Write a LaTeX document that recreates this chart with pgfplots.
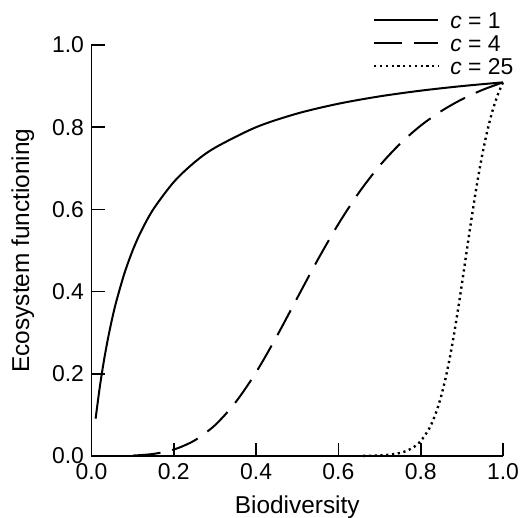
\documentclass[border=0pt]{standalone}
\usepackage{fontspec}
\setmainfont{Liberation Sans}
\usepackage{pgfplots}
\pgfplotsset{compat=1.18}

\begin{document}
\begin{tikzpicture}
\begin{axis}[
    scale only axis,
    width=411.5bp, height=411bp,
    xmin=0, xmax=1, ymin=0, ymax=1,
    enlargelimits=false,
    clip=false,
    axis lines=left,
    axis line style={-, line width=1.6bp},
    tick align=inside,
    major tick length=13bp,
    tick style={line width=1.6bp, black},
    xtick={0,0.2,0.4,0.6,0.8,1.0},
    ytick={0,0.2,0.4,0.6,0.8,1.0},
    /pgf/number format/assume math mode=true,
    /pgf/number format/fixed,
    /pgf/number format/fixed zerofill,
    /pgf/number format/precision=1,
    ticklabel style={font=\fontsize{23}{27}\selectfont},
    xticklabel shift=4bp,
    yticklabel shift=4bp,
    label style={font=\fontsize{24.5}{28}\selectfont},
    xlabel shift=9bp,
    ylabel shift=11bp,
    xlabel={Biodiversity},
    ylabel={Ecosystem functioning},
    legend style={
        at={(axis cs:0.684,1)}, anchor=north west, yshift=36.5bp,
        draw=none, fill=none, inner sep=0pt, outer sep=0pt,
        column sep=11bp, row sep=0pt,
        font=\fontsize{23}{27}\selectfont,
        nodes={inner xsep=0pt, inner ysep=3bp, text height=17bp, text depth=0bp},
    },
    legend cell align=left,
    legend image code/.code={\draw[#1] (0bp,0bp) -- (64bp,0bp);},
]
% c = 1
\addplot[black, line width=2bp, smooth] coordinates {
    (0.01,0.0909) (0.02,0.1667) (0.03,0.2308) (0.04,0.2857) (0.05,0.3333)
    (0.06,0.3750) (0.08,0.4444) (0.10,0.5000) (0.12,0.5455) (0.15,0.6000)
    (0.20,0.6667) (0.25,0.7143) (0.30,0.7500) (0.40,0.8000) (0.50,0.8333)
    (0.60,0.8571) (0.70,0.8750) (0.80,0.8889) (0.90,0.9000) (1.00,0.9091)
};
\addlegendentry{\textit{c} = 1}
% c = 4
\addplot[black, line width=2bp, smooth, dash pattern=on 28bp off 12bp] coordinates {
    (0.10,0.0010) (0.15,0.0050) (0.20,0.0157) (0.25,0.0376) (0.30,0.0749)
    (0.35,0.1305) (0.40,0.2038) (0.45,0.2908) (0.50,0.3846) (0.55,0.4778)
    (0.60,0.5645) (0.65,0.6410) (0.70,0.7060) (0.75,0.7598) (0.80,0.8038)
    (0.85,0.8392) (0.90,0.8677) (0.95,0.8907) (1.00,0.9091)
};
\addlegendentry{\textit{c} = 4}
% c = 25
\addplot[black, line width=2.4bp, smooth, dash pattern=on 2.2bp off 3.6bp] coordinates {
    (0.66,0.0003) (0.70,0.0013) (0.72,0.0027) (0.74,0.0054) (0.76,0.0104)
    (0.78,0.0196) (0.80,0.0364) (0.82,0.0654) (0.83,0.0867) (0.84,0.1134)
    (0.85,0.1467) (0.86,0.1872) (0.87,0.2352) (0.88,0.2904) (0.89,0.3520)
    (0.90,0.4179) (0.91,0.4864) (0.92,0.5544) (0.93,0.6198) (0.94,0.6804)
    (0.95,0.7350) (0.96,0.7828) (0.97,0.8236) (0.98,0.8578) (0.99,0.8861)
    (1.00,0.9091)
};
\addlegendentry{\textit{c} = 25}
\end{axis}
\pgfresetboundingbox
\path[use as bounding box] (-91.5bp,-62bp) rectangle (429.5bp,456bp);
\end{tikzpicture}
\end{document}
